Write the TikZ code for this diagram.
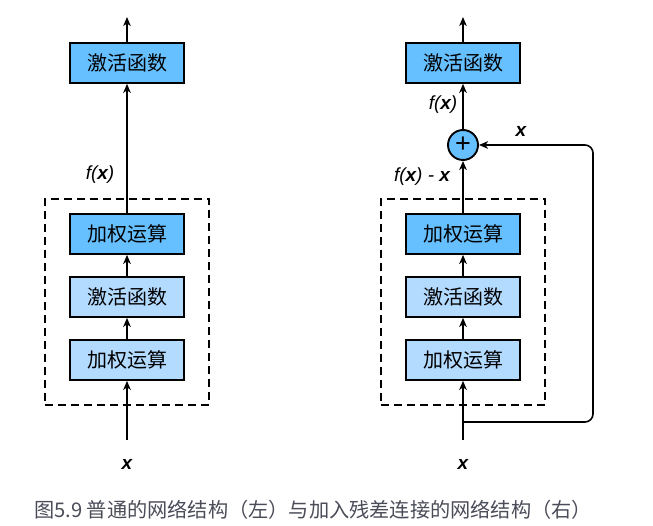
\documentclass[tikz,border=0pt]{standalone}
\usepackage{fontspec}
\setmainfont{Liberation Sans}
\newfontfamily\cjk{Noto Sans CJK SC}
\usetikzlibrary{arrows.meta,positioning}
\definecolor{darkblue}{HTML}{66BFFF}
\definecolor{lightblue}{HTML}{B3DAFF}
\definecolor{captiongray}{HTML}{4A4C58}

\begin{document}
\begin{tikzpicture}[
  x=1pt, y=-1pt,
  line width=1.9pt,
  >={Stealth[length=9pt,width=7.5pt,inset=2.5pt]},
  layer/.style={draw, line width=1.7pt, minimum width=114pt, minimum height=40pt,
    inner sep=0pt, font=\cjk\fontsize{20}{22}\selectfont},
  deep/.style={layer, fill=darkblue},
  shallow/.style={layer, fill=lightblue},
  frame/.style={draw, dash pattern=on 8pt off 5pt, minimum width=164pt,
    minimum height=206pt, inner sep=0pt},
  sum/.style={circle, draw, fill=darkblue, minimum size=30pt, inner sep=0pt,
    font=\fontsize{27}{27}\selectfont},
  lab/.style={font=\fontsize{19}{22}\selectfont\itshape}]
\useasboundingbox (0,0) rectangle (653,526);

% plain network (left)
\node (lframe) [frame] at (127,302) {};
\node (lact1) [deep] at (127,63) {激活函数};
\node (lwt1) [deep] at (127,234) {加权运算};
\node (lact0) [shallow] at (127,297) {激活函数};
\node (lwt0) [shallow] at (127,360) {加权运算};
\coordinate (lin) at (127,440);
\coordinate (lout) at (127,17);
\node (lx) [lab] at (127,464) {\textbf{x}};
\node (lfx) [lab] at (100,175) {f(\textbf{x})};
\draw[->] (lin) -- (lwt0);
\draw[->] (lwt0) -- (lact0);
\draw[->] (lact0) -- (lwt1);
\draw[->] (lwt1) -- (lact1);
\draw[->] (lact1) -- (lout);

% residual network (right)
\node (rframe) [frame] at (463,302) {};
\node (ract1) [deep] at (463,63) {激活函数};
\node (radd) [sum] at (463,145) {+};
\node (rwt1) [deep] at (463,234) {加权运算};
\node (ract0) [shallow] at (463,297) {激活函数};
\node (rwt0) [shallow] at (463,360) {加权运算};
\coordinate (rin) at (463,440);
\coordinate (rsplit) at (463,422);
\coordinate (rcorner) at (593,422);
\coordinate (rout) at (463,17);
\node (rx) [lab] at (463,464) {\textbf{x}};
\node (rfx) [lab] at (443,105) {f(\textbf{x})};
\node (rdiff) [lab] at (422,177) {f(\textbf{x}) - \textbf{x}};
\node (rskip) [lab] at (521,131) {\textbf{x}};
\draw[->] (rin) -- (rwt0);
\draw[->] (rwt0) -- (ract0);
\draw[->] (ract0) -- (rwt1);
\draw[->] (rwt1) -- (radd);
\draw[->] (radd) -- (ract1);
\draw[->] (ract1) -- (rout);
\draw[->, rounded corners=8pt, line width=1.6pt] (rsplit) -- (rcorner) |- (radd);

\node (caption) [text=captiongray, font=\cjk\fontsize{20.2}{22}\selectfont] at (313,510)
  {图5.9 普通的网络结构（左）与加入残差连接的网络结构（右）};
\end{tikzpicture}
\end{document}
